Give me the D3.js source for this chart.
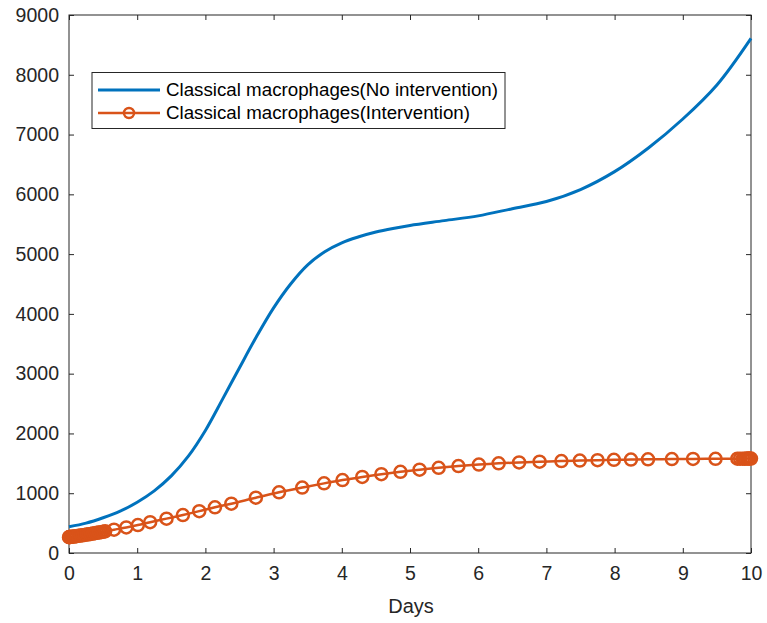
<!DOCTYPE html>
<html>
<head>
<meta charset="utf-8">
<script src="https://cdn.jsdelivr.net/npm/d3@7"></script>
<style>
  html, body { margin: 0; padding: 0; background: #fff; }
  svg { display: block; font-family: "Liberation Sans", Arial, sans-serif; }
</style>
</head>
<body>
<svg id="chart" width="767" height="623"></svg>
<script>
// Classical macrophage population over time, without intervention (smooth solution)
const daysNoIntervention = [0, 0.25, 0.5, 0.75, 1.0, 1.25, 1.5, 1.75, 2.0, 2.25, 2.5, 2.75, 3.0, 3.25, 3.5, 3.75, 4.0, 4.25, 4.5, 4.75, 5.0, 5.5, 6.0, 6.5, 7.0, 7.5, 8.0, 8.5, 9.0, 9.5, 10];
const valuesNoIntervention = [440, 500, 590, 700, 850, 1040, 1290, 1620, 2050, 2570, 3100, 3620, 4100, 4500, 4820, 5040, 5190, 5290, 5370, 5430, 5480, 5560, 5640, 5760, 5880, 6080, 6380, 6780, 7260, 7830, 8610];

// With intervention: solver output steps (one marker per step)
const daysIntervention = [0, 0.005, 0.01, 0.02, 0.03, 0.05, 0.07, 0.09, 0.11, 0.14, 0.17, 0.2, 0.23, 0.26, 0.29, 0.32, 0.35, 0.38, 0.41, 0.44, 0.47, 0.5, 0.53, 0.66, 0.84, 1.01, 1.19, 1.43, 1.67, 1.91, 2.14, 2.38, 2.74, 3.08, 3.42, 3.74, 4.01, 4.30, 4.58, 4.86, 5.14, 5.42, 5.71, 6.01, 6.30, 6.60, 6.90, 7.22, 7.49, 7.75, 7.99, 8.24, 8.49, 8.84, 9.15, 9.48, 9.80, 9.84, 9.88, 9.91, 9.94, 9.96, 9.98, 10];
const valuesIntervention = [265, 266, 267, 269, 270, 273, 276, 279, 282, 287, 292, 297, 302, 308, 313, 319, 325, 331, 337, 343, 349, 355, 362, 390, 428, 468, 515, 575, 635, 700, 765, 825, 925, 1015, 1095, 1165, 1220, 1272, 1318, 1358, 1393, 1425, 1455, 1480, 1500, 1515, 1527, 1538, 1546, 1553, 1558, 1563, 1567, 1571, 1574, 1576, 1578, 1578, 1578, 1578, 1579, 1579, 1579, 1579];

const xTicks = [0, 1, 2, 3, 4, 5, 6, 7, 8, 9, 10];
const yTicks = [0, 1000, 2000, 3000, 4000, 5000, 6000, 7000, 8000, 9000];
const seriesNames = ["Classical macrophages(No intervention)", "Classical macrophages(Intervention)"];
const xLabel = "Days";

const blue = "#0072BD", orange = "#D95319", axisColor = "#262626";

const svg = d3.select("#chart");
const plotLeft = 69, plotRight = 751, plotTop = 15, plotBottom = 553;

const x = d3.scaleLinear().domain([0, 10]).range([plotLeft, plotRight]);
const y = d3.scaleLinear().domain([0, 9000]).range([plotBottom, plotTop]);

// axes box with inward ticks on all four sides
const tickLen = 5;
const g = svg.append("g");
g.append("rect")
  .attr("x", plotLeft).attr("y", plotTop)
  .attr("width", plotRight - plotLeft).attr("height", plotBottom - plotTop)
  .attr("fill", "none").attr("stroke", axisColor).attr("stroke-width", 1);

const xAxis = d3.axisBottom(x).tickValues(xTicks).tickSizeInner(-tickLen).tickSizeOuter(0).tickPadding(13).tickFormat(d3.format("d"));
const yAxis = d3.axisLeft(y).tickValues(yTicks).tickSizeInner(-tickLen).tickSizeOuter(0).tickPadding(10).tickFormat(d3.format("d"));
const xTop = d3.axisTop(x).tickValues(xTicks).tickSizeInner(-tickLen).tickSizeOuter(0).tickFormat("");
const yRight = d3.axisRight(y).tickValues(yTicks).tickSizeInner(-tickLen).tickSizeOuter(0).tickFormat("");

function styleAxis(sel) {
  sel.select(".domain").remove();
  sel.selectAll("line").attr("stroke", axisColor);
  sel.selectAll("text").attr("fill", axisColor).style("font-size", "19.5px")
    .style("font-family", "'Liberation Sans', Arial, sans-serif");
}
g.append("g").attr("transform", `translate(0,${plotBottom})`).call(xAxis).call(styleAxis);
g.append("g").attr("transform", `translate(${plotLeft},0)`).call(yAxis).call(styleAxis);
g.append("g").attr("transform", `translate(0,${plotTop})`).call(xTop).call(styleAxis);
g.append("g").attr("transform", `translate(${plotRight},0)`).call(yRight).call(styleAxis);

svg.append("text")
  .attr("x", (plotLeft + plotRight) / 2 + 1).attr("y", 613)
  .attr("text-anchor", "middle")
  .attr("fill", axisColor)
  .style("font-size", "20px")
  .text(xLabel);

// series
const blueData = daysNoIntervention.map((d, i) => [d, valuesNoIntervention[i]]);
const orangeData = daysIntervention.map((d, i) => [d, valuesIntervention[i]]);

const line = d3.line().x(d => x(d[0])).y(d => y(d[1])).curve(d3.curveCatmullRom.alpha(0.5));

svg.append("path").datum(blueData)
  .attr("d", line).attr("fill", "none")
  .attr("stroke", blue).attr("stroke-width", 3);

svg.append("path").datum(orangeData)
  .attr("d", line).attr("fill", "none")
  .attr("stroke", orange).attr("stroke-width", 2.5);

svg.append("g").selectAll("circle").data(orangeData).join("circle")
  .attr("cx", d => x(d[0])).attr("cy", d => y(d[1]))
  .attr("r", 6).attr("fill", "none")
  .attr("stroke", orange).attr("stroke-width", 2.5);

// legend
const lg = svg.append("g");
lg.append("rect")
  .attr("x", 92).attr("y", 72.5).attr("width", 413).attr("height", 56)
  .attr("fill", "#fff").attr("stroke", axisColor).attr("stroke-width", 1);
const rows = [90, 113];
lg.append("line").attr("x1", 98).attr("x2", 160).attr("y1", rows[0]).attr("y2", rows[0])
  .attr("stroke", blue).attr("stroke-width", 3);
lg.append("line").attr("x1", 98).attr("x2", 160).attr("y1", rows[1]).attr("y2", rows[1])
  .attr("stroke", orange).attr("stroke-width", 2.5);
lg.append("circle").attr("cx", 129).attr("cy", rows[1]).attr("r", 5)
  .attr("fill", "none").attr("stroke", orange).attr("stroke-width", 2.5);
const legendWidths = [332, 304];
seriesNames.forEach((name, i) => {
  lg.append("text").attr("x", 166).attr("y", rows[i]).attr("dy", "0.35em")
    .attr("fill", "#000").style("font-size", "17.5px")
    .attr("textLength", legendWidths[i]).attr("lengthAdjust", "spacingAndGlyphs")
    .text(name);
});
</script>
</body>
</html>
